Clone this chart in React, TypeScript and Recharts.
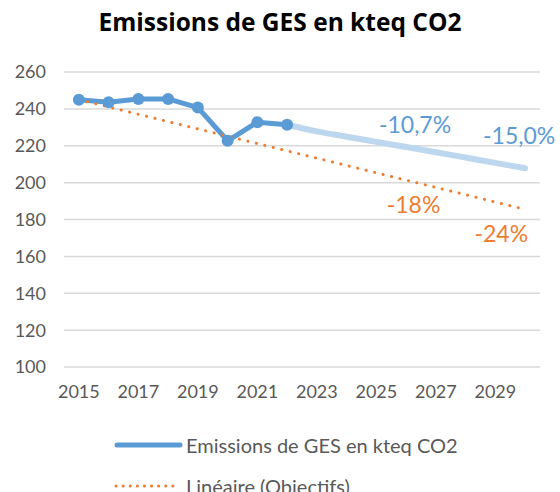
import { LineChart, Line, XAxis, YAxis, CartesianGrid, ReferenceDot } from 'recharts'

const YEARS = [2015, 2016, 2017, 2018, 2019, 2020, 2021, 2022, 2023, 2024, 2025, 2026, 2027, 2028, 2029, 2030]
// measured emissions (kteq CO2), null after 2022
const EMISSIONS = [245, 243.6, 245.4, 245.4, 240.7, 222.7, 232.8, 231.4, null, null, null, null, null, null, null, null]
// projected trajectory, starting from the last measured year
const PROJECTION = [null, null, null, null, null, null, null, 231.4, 227.8, 224.9, 222.1, 219.3, 216.5, 213.6, 210.7, 207.8]
// linear objective, only the two ends are known
const OBJECTIVE = [245, null, null, null, null, null, null, null, null, null, null, null, null, null, null, 185.5]

const X_TICKS = [2015, 2017, 2019, 2021, 2023, 2025, 2027, 2029]
const Y_TICKS = [100, 120, 140, 160, 180, 200, 220, 240, 260]

const NOTE_TEXTS = ['-10,7%', '-15,0%', '-18%', '-24%']
const NOTE_YEARS = [2026.3, 2029.8, 2026.25, 2029.2]
const NOTE_VALUES = [231.6, 225.4, 187.9, 172.1]

const BLUE = '#5B9BD5'
const LIGHT_BLUE = '#BDD7EE'
const ORANGE = '#ED7D31'
const NOTE_COLORS = [BLUE, BLUE, ORANGE, ORANGE]

const FONT = 'Lato, "Open Sans", sans-serif'

const data = YEARS.map((year, i) => ({
  year,
  emissions: EMISSIONS[i],
  projection: PROJECTION[i],
  objective: OBJECTIVE[i],
}))

const ChartLegend = () => (
  <div style={{ position: 'absolute', left: 0, top: 424, width: 560, fontFamily: FONT, fontSize: 20, color: '#595959' }}>
    <div style={{ display: 'flex', alignItems: 'center', height: 41, paddingLeft: 114 }}>
      <svg width={72} height={10}>
        <line x1={3} y1={5} x2={66} y2={5} stroke={BLUE} strokeWidth={5} strokeLinecap="round" />
      </svg>
      <span>Emissions de GES en kteq CO2</span>
    </div>
    <div style={{ display: 'flex', alignItems: 'center', height: 41, paddingLeft: 114 }}>
      <svg width={72} height={10}>
        <line x1={2} y1={5} x2={60} y2={5} stroke={ORANGE} strokeWidth={3} strokeDasharray="0.1 7" strokeLinecap="round" />
      </svg>
      <span>Linéaire (Objectifs)</span>
    </div>
  </div>
)

export default function App() {
  return (
    <div style={{ position: 'absolute', left: 0, top: 0, width: 560, height: 492, background: '#fff', overflow: 'hidden' }}>
      <div
        style={{
          position: 'absolute',
          top: 5,
          width: 560,
          textAlign: 'center',
          fontFamily: '"Open Sans", sans-serif',
          fontWeight: 'bold',
          fontSize: 24.5,
          color: '#000',
        }}
      >
        Emissions de GES en kteq CO2
      </div>
      <LineChart width={560} height={492} data={data} margin={{ top: 72, right: 20, bottom: 95, left: 0 }}>
        <CartesianGrid vertical={false} stroke="#D9D9D9" strokeWidth={1.5} />
        <XAxis
          dataKey="year"
          type="number"
          domain={[2014.5, 2030.5]}
          ticks={X_TICKS}
          axisLine={false}
          tickLine={false}
          tickMargin={12}
          height={30}
          tick={{ fill: '#595959', fontSize: 18, fontFamily: FONT }}
        />
        <YAxis
          domain={[100, 260]}
          ticks={Y_TICKS}
          width={64}
          axisLine={false}
          tickLine={false}
          tickMargin={12}
          tick={{ fill: '#595959', fontSize: 18, fontFamily: FONT }}
        />
        <Line
          dataKey="projection"
          stroke={LIGHT_BLUE}
          strokeWidth={6}
          type="monotone"
          dot={false}
          strokeLinecap="round"
          isAnimationActive={false}
        />
        <Line
          dataKey="emissions"
          stroke={BLUE}
          strokeWidth={5}
          type="linear"
          dot={{ r: 6, fill: BLUE, stroke: BLUE, strokeWidth: 0 }}
          strokeLinejoin="round"
          isAnimationActive={false}
        />
        <Line
          dataKey="objective"
          stroke={ORANGE}
          strokeWidth={3}
          strokeDasharray="0.1 8.6"
          strokeLinecap="round"
          connectNulls
          dot={false}
          isAnimationActive={false}
        />
        {NOTE_TEXTS.map((text, i) => (
          <ReferenceDot
            key={text}
            x={NOTE_YEARS[i]}
            y={NOTE_VALUES[i]}
            r={0}
            fill="none"
            stroke="none"
            label={{ value: text, position: 'center', fill: NOTE_COLORS[i], fontSize: 23, fontFamily: FONT }}
          />
        ))}
      </LineChart>
      <ChartLegend />
    </div>
  )
}
